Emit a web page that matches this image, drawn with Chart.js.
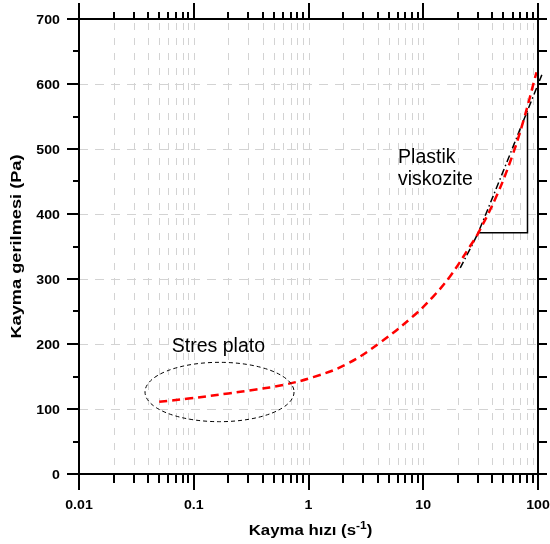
<!DOCTYPE html>
<html>
<head>
<meta charset="utf-8">
<script src="https://cdn.jsdelivr.net/npm/chart.js@4.4.0/dist/chart.umd.min.js"></script>
<style>
  html, body { margin: 0; padding: 0; background: #fff; }
  canvas { display: block; }
</style>
</head>
<body>
<canvas id="myChart" width="550" height="544"></canvas>
<script>
// shear rate (1/s) vs shear stress (Pa)
const rateValues = [0.05, 0.09, 0.2, 0.35, 0.6, 1.1, 2.15, 4.2, 8.2, 12.2, 17.1, 25.5, 30.2, 43.6, 59, 74.5, 97];
const stressValues = [111, 116, 124, 130, 137, 149, 169, 202, 243, 273, 304, 350, 371, 428, 487, 543, 618];

// plastic viscosity line
const fitRates = [21, 30.2, 108];
const fitStress = [317, 372, 614];

// slope triangle
const triRates = [30, 81, 81];
const triStress = [371, 371, 556];

// "stres plato" ellipse, in data units
const plateauRates = [0.0376, 0.748];
const plateauStress = [80.5, 171.8];

const xTicks = [0.01, 0.1, 1, 10, 100];
const xTickLabels = ["0.01", "0.1", "1", "10", "100"];
const yTicks = [0, 100, 200, 300, 400, 500, 600, 700];
const minorSteps = [2, 3, 4, 5, 6, 7, 8, 9];

const FONT = "'Liberation Sans', Arial, sans-serif";

function toPoints(xs, ys) {
  return xs.map((x, i) => ({ x: x, y: ys[i] }));
}

function minorXTicks() {
  const out = [];
  xTicks.slice(0, -1).forEach((d) => {
    minorSteps.forEach((s) => out.push(d * s));
  });
  return out;
}

function line(ctx, x1, y1, x2, y2) {
  ctx.beginPath();
  ctx.moveTo(x1, y1);
  ctx.lineTo(x2, y2);
  ctx.stroke();
}

// the original uses a wide-looking font, so stretch Liberation a bit
function wideText(ctx, text, x, y, sx, align) {
  ctx.save();
  ctx.translate(x, y);
  ctx.scale(sx, 1);
  ctx.textAlign = align;
  ctx.fillText(text, 0, 0);
  ctx.restore();
}

const gridPlugin = {
  id: "gridLines",
  beforeDatasetsDraw(chart) {
    const ctx = chart.ctx;
    const a = chart.chartArea;
    const xs = chart.scales.x;
    const ys = chart.scales.y;
    ctx.save();
    ctx.strokeStyle = "#d3d3d3";
    ctx.lineWidth = 1;
    ctx.setLineDash([7, 8]);
    ctx.lineDashOffset = 11;
    minorXTicks().concat(xTicks.slice(1, -1)).forEach((v) => {
      const x = Math.round(xs.getPixelForValue(v)) + 0.5;
      line(ctx, x, a.top, x, a.bottom);
    });
    ctx.setLineDash([9, 7]);
    ctx.lineDashOffset = 0;
    yTicks.slice(1, -1).forEach((v) => {
      const y = Math.round(ys.getPixelForValue(v)) + 0.5;
      line(ctx, a.left, y, a.right, y);
    });
    ctx.restore();
  },
};

const framePlugin = {
  id: "frame",
  afterDatasetsDraw(chart) {
    const ctx = chart.ctx;
    const a = chart.chartArea;
    const xs = chart.scales.x;
    const ys = chart.scales.y;

    // ellipse round the plateau
    const ex1 = xs.getPixelForValue(plateauRates[0]);
    const ex2 = xs.getPixelForValue(plateauRates[1]);
    const ey1 = ys.getPixelForValue(plateauStress[0]);
    const ey2 = ys.getPixelForValue(plateauStress[1]);
    ctx.save();
    ctx.strokeStyle = "#000";
    ctx.lineWidth = 1;
    ctx.setLineDash([4, 3]);
    ctx.beginPath();
    ctx.ellipse((ex1 + ex2) / 2, (ey1 + ey2) / 2, (ex2 - ex1) / 2, (ey1 - ey2) / 2, 0, 0, Math.PI * 2);
    ctx.stroke();
    ctx.restore();

    ctx.save();
    ctx.strokeStyle = "#000";
    ctx.lineWidth = 2;
    ctx.setLineDash([]);

    // axis lines
    line(ctx, a.left, a.top - 16, a.left, a.bottom + 16);
    line(ctx, a.right, a.top - 16, a.right, a.bottom + 16);
    line(ctx, a.left - 12, a.top, a.right + 9, a.top);
    line(ctx, a.left - 12, a.bottom, a.right + 9, a.bottom);

    // y ticks
    for (let v = 0; v <= 700; v += 50) {
      const y = Math.round(ys.getPixelForValue(v));
      const major = v % 100 === 0;
      line(ctx, a.left - (major ? 12 : 6), y, a.left, y);
      line(ctx, a.right, y, a.right + 9, y);
    }
    // x ticks
    xTicks.forEach((v) => {
      const x = Math.round(xs.getPixelForValue(v));
      line(ctx, x, a.bottom, x, a.bottom + 16);
      line(ctx, x, a.top, x, a.top - 16);
    });
    minorXTicks().forEach((v) => {
      const x = Math.round(xs.getPixelForValue(v));
      line(ctx, x, a.bottom, x, a.bottom + 9);
      line(ctx, x, a.top, x, a.top - 7);
    });

    // tick labels
    ctx.fillStyle = "#000";
    ctx.font = "bold 12px " + FONT;
    ctx.textBaseline = "alphabetic";
    yTicks.forEach((v) => {
      const y = ys.getPixelForValue(v);
      wideText(ctx, String(v), a.left - 19, y + 4.5, 1.18, "right");
    });
    xTicks.forEach((v, i) => {
      const x = xs.getPixelForValue(v);
      wideText(ctx, xTickLabels[i], x, a.bottom + 35, 1.18, "center");
    });

    // x title with superscript
    const sx = 1.2;
    ctx.font = "bold 14px " + FONT;
    const partA = "Kayma hızı (s";
    const partC = ")";
    const wA = ctx.measureText(partA).width * sx;
    const wC = ctx.measureText(partC).width * sx;
    ctx.font = "bold 10px " + FONT;
    const partB = "-1";
    const wB = ctx.measureText(partB).width * sx;
    let tx = (a.left + a.right) / 2 - (wA + wB + wC) / 2 + 2;
    const ty = a.bottom + 61;
    ctx.font = "bold 14px " + FONT;
    wideText(ctx, partA, tx, ty, sx, "left");
    ctx.font = "bold 10px " + FONT;
    wideText(ctx, partB, tx + wA, ty - 6, sx, "left");
    ctx.font = "bold 14px " + FONT;
    wideText(ctx, partC, tx + wA + wB, ty, sx, "left");

    // y title
    ctx.save();
    ctx.translate(21, (a.top + a.bottom) / 2);
    ctx.rotate(-Math.PI / 2);
    ctx.font = "bold 14px " + FONT;
    wideText(ctx, "Kayma gerilmesi (Pa)", 0, 0, 1.3, "center");
    ctx.restore();

    // annotations
    ctx.font = "19.5px " + FONT;
    ctx.textAlign = "center";
    ctx.fillText("Stres plato", xs.getPixelForValue(0.164), ys.getPixelForValue(188));
    ctx.textAlign = "left";
    ctx.fillText("Plastik", xs.getPixelForValue(6.03), ys.getPixelForValue(478));
    ctx.fillText("viskozite", xs.getPixelForValue(6.03), ys.getPixelForValue(444));
    ctx.restore();
  },
};

function mainEvent() {
  const target = document.querySelector("#myChart");
  const chart = new Chart(target, {
    type: "line",
    data: {
      datasets: [
        {
          label: "Kayma gerilmesi",
          data: toPoints(rateValues, stressValues),
          borderColor: "#ff0000",
          borderWidth: 2.5,
          borderDash: [8, 5],
          pointRadius: 0,
          tension: 0.4,
          fill: false,
        },
        {
          label: "Plastik viskozite",
          data: toPoints(fitRates, fitStress),
          borderColor: "#000",
          borderWidth: 1.5,
          borderDash: [7, 3, 1.5, 3],
          pointRadius: 0,
          tension: 0.2,
          clip: false,
          fill: false,
        },
        {
          label: "egim",
          data: toPoints(triRates, triStress),
          borderColor: "#000",
          borderWidth: 1.5,
          pointRadius: 0,
          tension: 0,
          fill: false,
        },
      ],
    },
    options: {
      responsive: false,
      animation: false,
      devicePixelRatio: 1,
      layout: { padding: { left: 79, right: 12, top: 19, bottom: 70 } },
      scales: {
        x: { type: "logarithmic", min: 0.01, max: 100, display: false },
        y: { type: "linear", min: 0, max: 700, display: false },
      },
      plugins: {
        legend: { display: false },
        tooltip: { enabled: false },
      },
    },
    plugins: [gridPlugin, framePlugin],
  });
  return chart;
}

document.addEventListener("DOMContentLoaded", () => mainEvent());
</script>
</body>
</html>
